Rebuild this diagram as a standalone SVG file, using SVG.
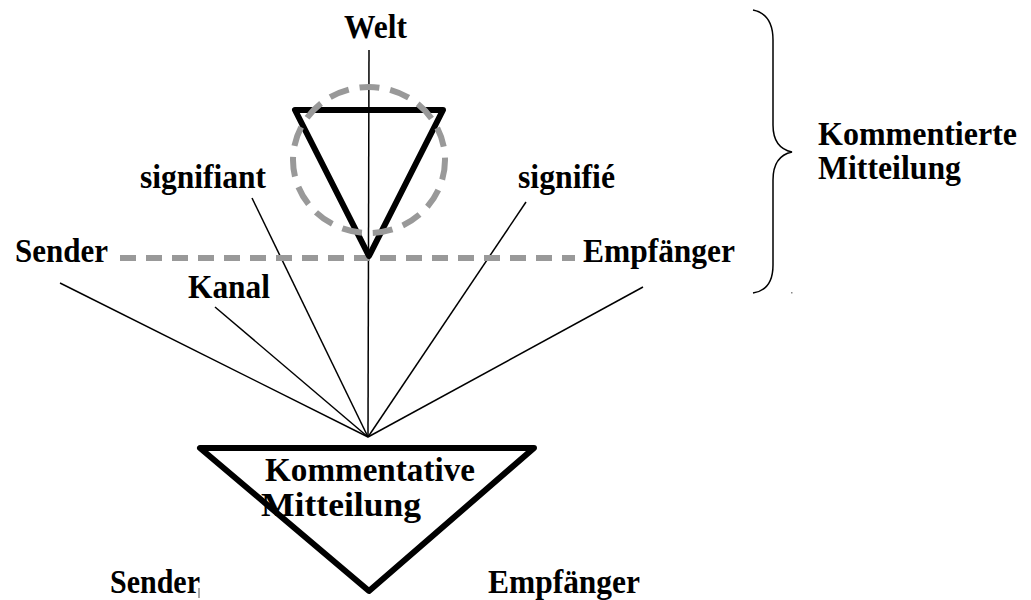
<svg xmlns="http://www.w3.org/2000/svg" width="1031" height="600" viewBox="0 0 1031 600">
<style>
text{font-family:"Liberation Serif","Times New Roman",serif;font-weight:bold;font-size:33px;fill:#000}
.thin{stroke:#000;stroke-width:1.5;fill:none}
.tri{stroke:#000;stroke-width:6;fill:none;stroke-linejoin:round}
.dash{stroke:#999;stroke-width:6;fill:none}
</style>
<rect width="1031" height="600" fill="#fff"/>
<g id="connectors">
<line class="thin" x1="369" y1="50" x2="368" y2="437"/>
<line class="thin" x1="60" y1="283" x2="368" y2="437"/>
<line class="thin" x1="215" y1="307" x2="368" y2="437"/>
<line class="thin" x1="252" y1="198" x2="368" y2="437"/>
<line class="thin" x1="526" y1="202" x2="368" y2="437"/>
<line class="thin" x1="643" y1="287" x2="368" y2="437"/>
<line class="dash" x1="120" y1="258" x2="575" y2="258" stroke-dasharray="16 10"/>
</g>
<g id="welt-triangle">
<polygon class="tri" points="295,110 443,110 369,256"/>
<ellipse class="dash" cx="369" cy="160" rx="76" ry="73" stroke-dasharray="20 11"/>
</g>
<g id="kommentative">
<polygon class="tri" points="200,448 534,448 369,591"/>
<text x="265" y="481" textLength="210" lengthAdjust="spacingAndGlyphs">Kommentative</text>
<text x="261" y="516" textLength="160" lengthAdjust="spacingAndGlyphs">Mitteilung</text>
</g>
<g id="labels">
<text x="344" y="38" textLength="63" lengthAdjust="spacingAndGlyphs">Welt</text>
<text x="140" y="188" textLength="126" lengthAdjust="spacingAndGlyphs">signifiant</text>
<text x="518" y="188" textLength="97" lengthAdjust="spacingAndGlyphs">signifié</text>
<text x="15" y="262" textLength="93" lengthAdjust="spacingAndGlyphs">Sender</text>
<text x="583" y="262" textLength="152" lengthAdjust="spacingAndGlyphs">Empfänger</text>
<text x="188" y="298" textLength="82" lengthAdjust="spacingAndGlyphs">Kanal</text>
<text x="110" y="593" textLength="90" lengthAdjust="spacingAndGlyphs">Sender</text>
<text x="488" y="593" textLength="152" lengthAdjust="spacingAndGlyphs">Empfänger</text>
<line x1="199" y1="588" x2="199" y2="598" stroke="#555" stroke-width="1"/>
</g>
<g id="kommentierte">
<path class="thin" d="M753,10 Q773,14 773,40 L773,125 Q773,148 792,152 Q773,156 773,180 L773,265 Q773,290 753,293"/>
<rect x="791" y="292" width="1.5" height="1.5" fill="#888"/>
<text x="818" y="145" textLength="199" lengthAdjust="spacingAndGlyphs">Kommentierte</text>
<text x="818" y="179" textLength="143" lengthAdjust="spacingAndGlyphs">Mitteilung</text>
</g>
</svg>
